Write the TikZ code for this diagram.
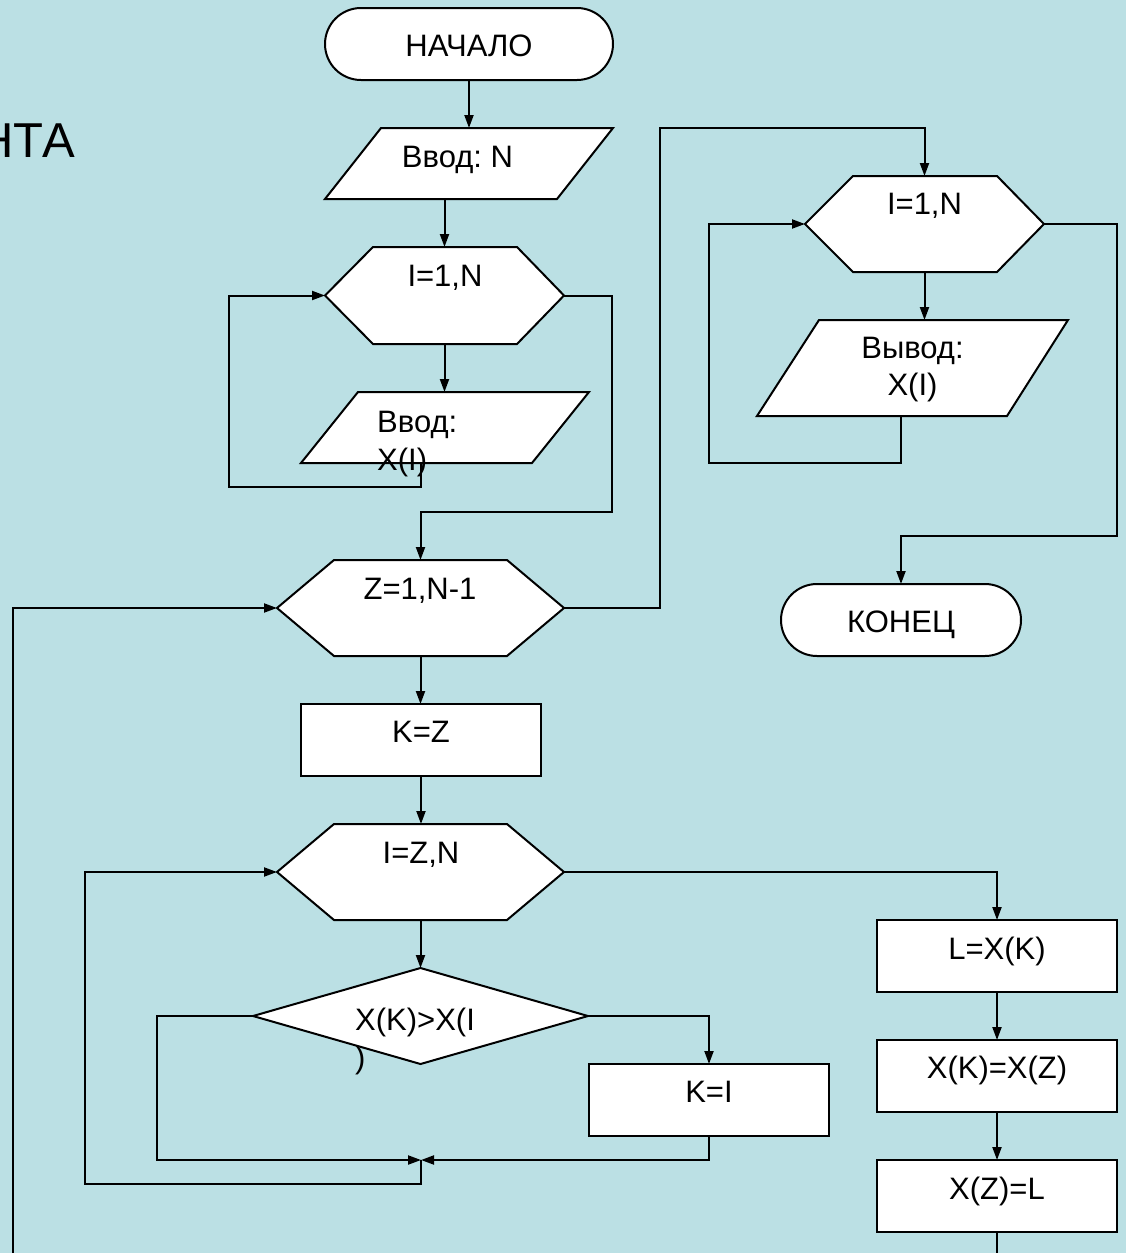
\documentclass[tikz,border=0pt]{standalone}
\usepackage{fontspec}
\setmainfont{Liberation Sans}
\usetikzlibrary{arrows.meta,calc}
\definecolor{bgc}{RGB}{187,224,228}
\frenchspacing
\begin{document}
\begin{tikzpicture}[x=1pt,y=-1pt,
  line/.style={line width=2pt, line join=miter},
  arr/.style={line, -{Triangle[length=13pt,width=9pt]}},
  shp/.style={line width=2pt, draw=black, fill=white, line join=miter},
  area/.style={draw=none, inner sep=0pt, outer sep=0pt, shape=rectangle},
  boxn/.style={shp, inner sep=0pt, outer sep=0pt, minimum width=240pt, minimum height=72pt},
  term/.style={shp, rounded corners=36pt, inner sep=0pt, outer sep=0pt, minimum height=72pt},
  txt/.style={font=\fontsize{31}{38}\selectfont, inner sep=0pt, anchor=base},
  bigtxt/.style={font=\fontsize{49}{58}\selectfont, inner sep=0pt, anchor=base east},
]
% background and bounding box
\fill[bgc] (0,0) rectangle (1126,1253);
\useasboundingbox (0,0) rectangle (1126,1253);

% helper coordinates
\coordinate (x421) at (421,0);
\coordinate (x901) at (901,0);
\coordinate (j) at (421,1160);
\coordinate (zin) at (13,1275);

% ---- shapes ----
\node[term, minimum width=288pt] (start) at (469,44) {};
\node[area, minimum width=288pt, minimum height=71pt] (in1) at (469,163.5) {};
\draw[shp] (in1.south west) -- ($(in1.north west)+(56,0)$) -- (in1.north east) -- ($(in1.south east)+(-56,0)$) -- cycle;

\node[area, minimum width=239pt, minimum height=97pt] (hex1) at (444.5,295.5) {};
\draw[shp] (hex1.west) -- ($(hex1.north west)+(48,0)$) -- ($(hex1.north east)+(-47,0)$) -- (hex1.east) -- ($(hex1.south east)+(-47,0)$) -- ($(hex1.south west)+(48,0)$) -- cycle;

\node[area, minimum width=288pt, minimum height=71pt] (in2) at (445,427.5) {};
\draw[shp] (in2.south west) -- ($(in2.north west)+(57,0)$) -- (in2.north east) -- ($(in2.south east)+(-57,0)$) -- cycle;

\node[area, minimum width=287pt, minimum height=96pt] (zhex) at (420.5,608) {};
\draw[shp] (zhex.west) -- ($(zhex.north west)+(57,0)$) -- ($(zhex.north east)+(-57,0)$) -- (zhex.east) -- ($(zhex.south east)+(-57,0)$) -- ($(zhex.south west)+(57,0)$) -- cycle;

\node[boxn] (kz) at (421,740) {};

\node[area, minimum width=287pt, minimum height=96pt] (ihex) at (420.5,872) {};
\draw[shp] (ihex.west) -- ($(ihex.north west)+(57,0)$) -- ($(ihex.north east)+(-57,0)$) -- (ihex.east) -- ($(ihex.south east)+(-57,0)$) -- ($(ihex.south west)+(57,0)$) -- cycle;

\node[area, minimum width=335pt, minimum height=96pt] (dia) at (420.5,1016) {};
\draw[shp] (dia.west) -- (dia.north) -- (dia.east) -- (dia.south) -- cycle;

\node[boxn] (ki) at (709,1100) {};
\node[boxn] (lx) at (997,956) {};
\node[boxn] (xk) at (997,1076) {};
\node[boxn] (xz) at (997,1196) {};

\node[area, minimum width=239pt, minimum height=96pt] (rhex) at (924.5,224) {};
\draw[shp] (rhex.west) -- ($(rhex.north west)+(48,0)$) -- ($(rhex.north east)+(-47,0)$) -- (rhex.east) -- ($(rhex.south east)+(-47,0)$) -- ($(rhex.south west)+(48,0)$) -- cycle;

\node[area, minimum width=311pt, minimum height=96pt] (out) at (912.5,368) {};
\draw[shp] (out.south west) -- ($(out.north west)+(62,0)$) -- (out.north east) -- ($(out.south east)+(-61,0)$) -- cycle;

\node[term, minimum width=240pt] (end) at (901,620) {};

% ---- connectors ----
\draw[arr] (start.south) -- (in1.north);
\draw[arr] (in1.south -| hex1.north) -- (hex1.north);
\draw[arr] (hex1.south) -- (hex1.south |- in2.north);
\draw[arr] (in2.south -| x421) |- (229,487) |- (hex1.west);
\draw[arr] (hex1.east) -| (612,512) -| (zhex.north);
\draw[arr] (zhex.east) -| (660,128) -| (rhex.north);
\draw[arr] (rhex.south) -- (rhex.south |- out.north);
\draw[arr] (out.south -| x901) |- (709,463) |- (rhex.west);
\draw[arr] (rhex.east) -| (1117,536) -| (end.north);
\draw[arr] (zin) |- (zhex.west);
\draw[arr] (zhex.south) -- (zhex.south |- kz.north);
\draw[arr] (kz.south) -- (kz.south |- ihex.north);
\draw[arr] (ihex.south) -- (ihex.south |- dia.north);
\draw[arr] (dia.west) -| (157,1160) -- (j);
\draw[arr] (dia.east) -| (ki.north);
\draw[arr] (ki.south) |- (j);
\draw[arr] (j) |- (85,1184) |- (ihex.west);
\draw[arr] (ihex.east) -| (lx.north);
\draw[arr] (lx.south) -- (xk.north);
\draw[arr] (xk.south) -- (xz.north);
\draw[line] (xz.south) -- (xz.south |- zin);

% ---- texts ----
\node[bigtxt] (ttl) at (75,157) {НТА};
\node[txt] (t0) at (469,56) {НАЧАЛО};
\node[txt] (t1) at (457.5,167) {Ввод: N};
\node[txt] (t2) at (445,286) {I=1,N};
\node[txt, anchor=base west] (t3) at (377,432) {Ввод:};
\node[txt, anchor=base west] (t3b) at (377,470) {X(I)};
\node[txt] (t4) at (924.5,214) {I=1,N};
\node[txt] (t5) at (912.5,358) {Вывод:};
\node[txt] (t5b) at (912.5,395) {X(I)};
\node[txt] (t6) at (901,632) {КОНЕЦ};
\node[txt] (t7) at (420,599) {Z=1,N-1};
\node[txt] (t8) at (421,742) {K=Z};
\node[txt] (t9) at (421,863) {I=Z,N};
\node[txt, anchor=base west] (t10) at (355,1030) {X(K)>X(I};
\node[txt, anchor=base west] (t10b) at (355,1068) {)};
\node[txt] (t11) at (709,1102) {K=I};
\node[txt] (t12) at (997,959) {L=X(K)};
\node[txt] (t13) at (997,1078) {X(K)=X(Z)};
\node[txt] (t14) at (997,1199) {X(Z)=L};
\end{tikzpicture}
\end{document}
